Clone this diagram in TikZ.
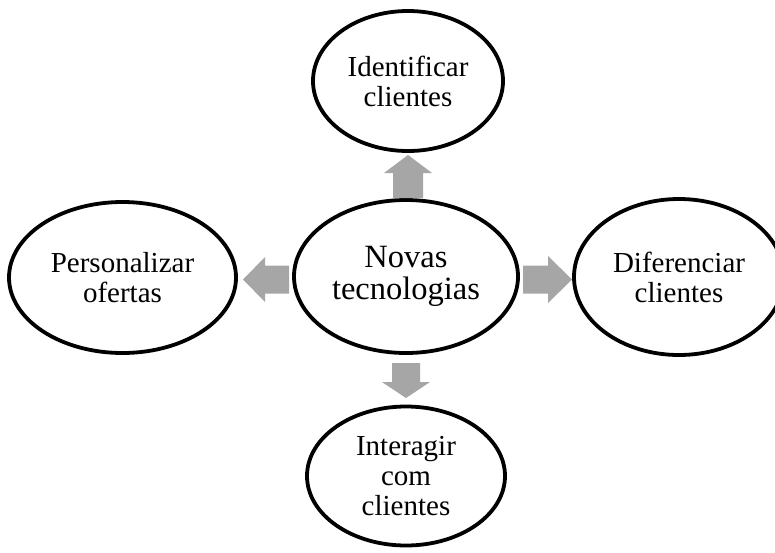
\documentclass[tikz,border=0pt]{standalone}
\usepackage{fontspec}
\setmainfont{Liberation Serif}
\usetikzlibrary{shapes.geometric}
\definecolor{arrowgray}{HTML}{A6A6A6}
\tikzset{
  bubble/.style={ellipse, draw=black, line width=3.8pt, fill=white, inner sep=0pt,
    align=center, font=\fontsize{29}{30}\selectfont},
  hub/.style={bubble, font=\fontsize{32.5}{32}\selectfont},
  blockarrow/.style={fill=arrowgray, draw=none}
}
\begin{document}
\begin{tikzpicture}[x=1pt, y=-1pt]
\useasboundingbox (0,0) rectangle (775,552);

% central idea and the four actions around it
\node[hub, minimum width=224pt, minimum height=153pt] (hub) at (406,276.5) {Novas\\tecnologias};
\node[bubble, minimum width=190pt, minimum height=140pt] (ident) at (408,81) {Identificar\\clientes};
\node[bubble, minimum width=227pt, minimum height=151pt] (pers) at (122.5,277.5) {Personalizar\\ofertas};
\node[bubble, minimum width=210pt, minimum height=156pt] (dif) at (679,277) {Diferenciar\\clientes};
\node[bubble, minimum width=198pt, minimum height=139pt] (inter) at (406,476) {Interagir\\com\\clientes};

% block arrows pointing outwards from the hub
\fill[blockarrow] (393,198) -- (393,173) -- (384,173) -- (408,155) -- (432,173) -- (423,173) -- (423,198) -- cycle;
\fill[blockarrow] (289,265.5) -- (265,265.5) -- (265,257) -- (243,279.5) -- (265,302) -- (265,293.5) -- (289,293.5) -- cycle;
\fill[blockarrow] (523,265.5) -- (548,265.5) -- (548,256) -- (572,279.5) -- (548,303) -- (548,293.5) -- (523,293.5) -- cycle;
\fill[blockarrow] (392,363) -- (392,382) -- (382,382) -- (406,398) -- (430,382) -- (420,382) -- (420,363) -- cycle;
\end{tikzpicture}
\end{document}
